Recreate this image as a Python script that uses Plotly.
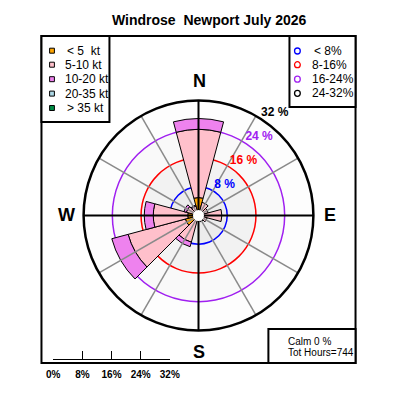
import numpy as np
import plotly.graph_objects as go

# ---------------- data ----------------
directions = [0, 30, 60, 90, 120, 150, 180, 210, 240, 270, 300, 330]
class_labels = ["<\u00a05\u00a0 kt", "5-10 kt", "10-20 kt", "20-35 kt", ">\u00a035 kt"]
freq_lt5 = [5.0, 1.2, 1.0, 1.2, 1.0, 0.9, 0.8, 1.3, 3.8, 3.0, 1.2, 1.1]
freq_5_10 = [19.0, 2.6, 1.8, 5.3, 1.5, 0.9, 0.7, 6.4, 16.5, 9.6, 2.3, 1.6]
freq_10_20 = [3.0, 0, 0, 0, 0, 0, 0, 1.3, 4.7, 2.5, 0.7, 0.3]
freq_20_35 = [0] * 12
freq_gt35 = [0] * 12
class_colors = ["#FFA500", "#FFC0CB", "#EE82EE", "#ADD8E6", "#008B45"]

ring_levels = [8, 16, 24, 32]
ring_labels = ["8 %", "16 %", "24 %", "32 %"]
ring_colors = ["#0000FF", "#FF0000", "#A020F0", "#000000"]
ring_fills = ["#ececec", "#f2f2f2", "#f9f9f9", "#fdfdfd"]
ring_legend_labels = ["<\u00a08%", "8-16%", "16-24%", "24-32%"]
scale_ticks = [0, 8, 16, 24, 32]
scale_labels = ["0%", "8%", "16%", "24%", "32%"]
calm_pct = 0
tot_hours = 744
title_text = "Windrose\u00a0 Newport July 2026"
FONT = "Liberation Sans, Arial, sans-serif"

W = H = 400


def px(x):
    return x / W


def py(y):
    return 1 - y / H


fig = go.Figure()
polar_kw = dict(subplot="polar", showlegend=False, hoverinfo="skip")

# background rings (largest first)
for lev, col in sorted(zip(ring_levels, ring_fills), reverse=True):
    fig.add_trace(go.Barpolar(r=[lev], theta=[0], base=[0], width=[360],
                              marker=dict(color=col, line=dict(width=0)), **polar_kw))
# coloured circles (thin annuli so they sit under the bars)
for lev, col in zip(ring_levels[:3], ring_colors[:3]):
    fig.add_trace(go.Barpolar(r=[0.42], theta=[0], base=[lev - 0.21], width=[360],
                              marker=dict(color=col, line=dict(width=0)), **polar_kw))

# wind bars (stacked via base)
classes = [freq_lt5, freq_5_10, freq_10_20, freq_20_35, freq_gt35]
cum = np.zeros(len(directions))
for vals, col in zip(classes, class_colors):
    v = np.array(vals, dtype=float)
    if v.sum() > 0:
        mask = v > 0
        fig.add_trace(go.Barpolar(
            r=v[mask], theta=np.array(directions)[mask], base=cum[mask], width=30,
            marker=dict(color=col, line=dict(color="black", width=1)), **polar_kw))
    cum = cum + v

# spokes
spoke_r, spoke_t, axis_r, axis_t = [], [], [], []
for d in range(0, 360, 30):
    if d % 90 == 0:
        axis_r += [0, ring_levels[-1], None]
        axis_t += [d, d, None]
    else:
        spoke_r += [0, ring_levels[-1], None]
        spoke_t += [d, d, None]
fig.add_trace(go.Scatterpolar(r=spoke_r, theta=spoke_t, mode="lines",
                              line=dict(color="#8a8a8a", width=1.5), **polar_kw))
fig.add_trace(go.Scatterpolar(r=axis_r, theta=axis_t, mode="lines",
                              line=dict(color="black", width=2), **polar_kw))
# centre white disc
fig.add_trace(go.Scatterpolar(r=[0], theta=[0], mode="markers",
                              marker=dict(color="white", size=11, line=dict(width=0)), **polar_kw))
# ring labels
fig.add_trace(go.Scatterpolar(r=ring_levels, theta=[33] * 4, mode="text",
                              text=["<b>%s</b>" % t for t in ring_labels],
                              textposition="top right", cliponaxis=False,
                              textfont=dict(color=ring_colors, size=12, family=FONT),
                              **polar_kw))

# scale bar trace (cartesian)
fig.add_trace(go.Scatter(x=[scale_ticks[0], scale_ticks[-1]], y=[0, 0], mode="markers",
                         marker=dict(opacity=0), showlegend=False, hoverinfo="skip"))

cy = 215.5
R = 120
fig.update_layout(
    width=W, height=H, margin=dict(l=0, r=0, t=0, b=0),
    paper_bgcolor="white", plot_bgcolor="rgba(0,0,0,0)",
    polar=dict(
        domain=dict(x=[px(200 - R), px(200 + R)], y=[py(cy + R), py(cy - R)]),
        bgcolor="white", barmode="overlay",
        radialaxis=dict(visible=False, range=[0, ring_levels[-1]]),
        angularaxis=dict(rotation=90, direction="clockwise", showgrid=False,
                         showticklabels=False, ticks="", showline=True,
                         linecolor="black", linewidth=2.5),
    ),
    xaxis=dict(domain=[px(48.3), px(170)], range=[scale_ticks[0], scale_ticks[-1]],
               anchor="y", showline=True, linecolor="black", linewidth=1.2,
               ticks="inside", ticklen=8, tickwidth=1.2, tickcolor="black",
               tickvals=scale_ticks, ticktext=["<b>%s</b>" % s for s in scale_labels],
               tickfont=dict(size=10, family=FONT, color="black"),
               ticklabelstandoff=6, showgrid=False, zeroline=False, fixedrange=True),
    yaxis=dict(domain=[py(359.3), py(340)], visible=False, range=[0, 1], fixedrange=True),
)

shapes = []
line_k = dict(color="black", width=2)
shapes.append(dict(type="rect", xref="paper", yref="paper", x0=px(36), x1=px(364),
                   y0=py(363), y1=py(36), line=line_k))
shapes.append(dict(type="rect", xref="paper", yref="paper", x0=px(36), x1=px(107),
                   y0=py(122), y1=py(36), line=line_k, fillcolor="white"))
shapes.append(dict(type="rect", xref="paper", yref="paper", x0=px(295), x1=px(364),
                   y0=py(107), y1=py(36), line=line_k, fillcolor="white"))
shapes.append(dict(type="rect", xref="paper", yref="paper", x0=px(273), x1=px(364),
                   y0=py(363), y1=py(329), line=line_k, fillcolor="white"))

annotations = []
rows_left = [50.7, 64.7, 79.2, 93.6, 108]
for lab, col, yy in zip(class_labels, class_colors, rows_left):
    shapes.append(dict(type="rect", xref="paper", yref="paper", x0=px(44.5), x1=px(49.5),
                       y0=py(yy + 2.5), y1=py(yy - 2.5), fillcolor=col,
                       line=dict(color="black", width=1)))
    xs = 61 if lab[0] in "<>" else 58
    annotations.append(dict(x=px(xs), y=py(yy), xref="paper", yref="paper", text=lab,
                            showarrow=False, xanchor="left", yanchor="middle",
                            font=dict(size=12, family=FONT, color="black")))

rows_right = [51, 64.7, 79.2, 93.3]
for lab, col, yy in zip(ring_legend_labels, ring_colors, rows_right):
    shapes.append(dict(type="circle", xref="paper", yref="paper", x0=px(300.3), x1=px(306.3),
                       y0=py(yy + 3), y1=py(yy - 3), line=dict(color=col, width=1.3)))
    xs = 319 if lab[0] == "<" else 316.5
    annotations.append(dict(x=px(xs), y=py(yy), xref="paper", yref="paper", text=lab,
                            showarrow=False, xanchor="left", yanchor="middle",
                            font=dict(size=12, family=FONT, color="black")))

for txt, xx, yy in [("N", 201.5, 81), ("S", 200, 352), ("W", 62, 215), ("E", 337, 215)]:
    annotations.append(dict(x=px(xx), y=py(yy), xref="paper", yref="paper",
                            text="<b>%s</b>" % txt, showarrow=False,
                            xanchor="center", yanchor="middle",
                            font=dict(size=18, family=FONT, color="black")))

annotations.append(dict(x=px(212), y=py(20), xref="paper", yref="paper",
                        text="<b>%s</b>" % title_text, showarrow=False,
                        xanchor="center", yanchor="middle",
                        font=dict(size=14, family=FONT, color="black")))
annotations.append(dict(x=px(291), y=py(341.5), xref="paper", yref="paper",
                        text="Calm %d %%" % calm_pct, showarrow=False,
                        xanchor="left", yanchor="middle",
                        font=dict(size=10, family=FONT, color="black")))
annotations.append(dict(x=px(291), y=py(352.5), xref="paper", yref="paper",
                        text="Tot Hours=%d" % tot_hours, showarrow=False,
                        xanchor="left", yanchor="middle",
                        font=dict(size=10, family=FONT, color="black")))

fig.update_layout(shapes=shapes, annotations=annotations)

fig.write_html("out.html", post_script="document.body.style.margin='0';",
               config={"displayModeBar": False})
